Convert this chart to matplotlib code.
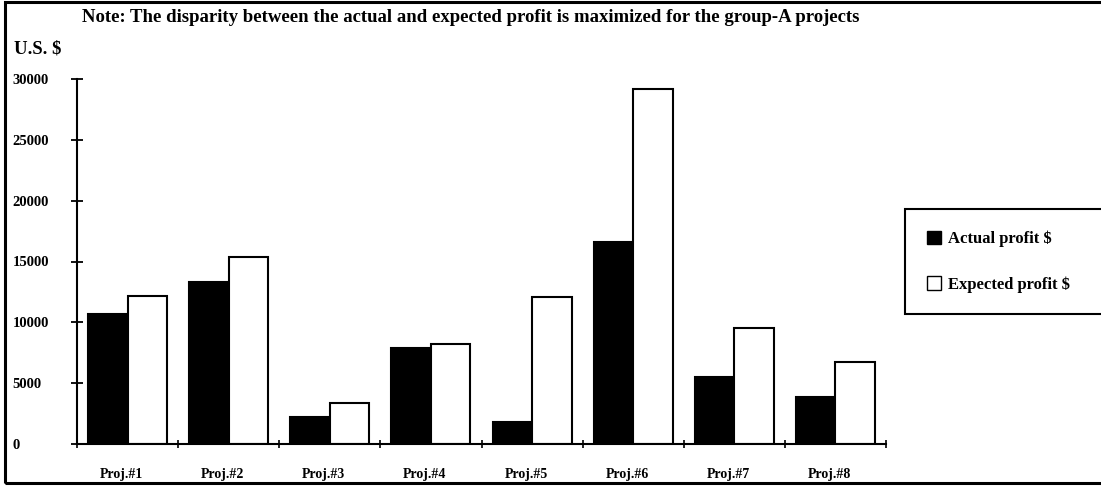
import numpy as np
import matplotlib
matplotlib.use("Agg")
import matplotlib.pyplot as plt
from matplotlib.patches import Rectangle, Patch

projects = ["Proj.#1", "Proj.#2", "Proj.#3", "Proj.#4", "Proj.#5", "Proj.#6", "Proj.#7", "Proj.#8"]
actual = [10700, 13300, 2200, 7900, 1800, 16600, 5500, 3900]
expected = [12200, 15400, 3400, 8200, 12100, 29200, 9500, 6700]
yticks = [0, 5000, 10000, 15000, 20000, 25000, 30000]

plt.rcParams["font.family"] = "Liberation Serif"
plt.rcParams["font.weight"] = "bold"

fig = plt.figure(figsize=(11.01, 4.86), dpi=100)
ax = fig.add_axes([77 / 1101, 1 - 444 / 486, (886 - 77) / 1101, (444 - 79) / 486])

x = np.arange(len(projects))
w = 0.39
ax.bar(x - w / 2, actual, w, color="black", edgecolor="black", linewidth=1.5)
ax.bar(x + w / 2, expected, w, color="white", edgecolor="black", linewidth=1.5)

ax.set_xlim(-0.5, len(projects) - 0.5)
ax.set_ylim(0, 30000)
for s in ["top", "right"]:
    ax.spines[s].set_visible(False)
for s in ["left", "bottom"]:
    ax.spines[s].set_linewidth(1.5)
    ax.spines[s].set_clip_on(False)

ax.set_yticks(yticks)
ax.set_yticklabels([str(v) for v in yticks], fontsize=10.5, fontweight="bold", ha="left")
ax.tick_params(axis="y", direction="inout", length=8.5, width=1.3, pad=42)

ax.set_xticks(np.arange(len(projects) + 1) - 0.5)
ax.set_xticklabels([])
ax.tick_params(axis="x", which="major", direction="inout", length=6, width=1.2)
ax.set_xticks(x - 0.06, minor=True)
ax.set_xticklabels(projects, minor=True, fontsize=10, fontweight="bold")
ax.tick_params(axis="x", which="minor", length=0, pad=17)

fig.text(82 / 1101, 1 - 17 / 486, "Note: The disparity between the actual and expected profit is maximized for the group-A projects",
         fontsize=13.5, fontweight="bold", ha="left", va="center")
fig.text(14 / 1101, 1 - 49 / 486, "U.S. \\$", fontsize=13.5, fontweight="bold", ha="left", va="center")

handles = [Patch(facecolor="black", edgecolor="black"), Patch(facecolor="white", edgecolor="black")]
leg = fig.legend(handles, ["Actual profit \\$", "Expected profit \\$"],
                 bbox_to_anchor=(905 / 1101, 1 - 314 / 486, 0.2, (314 - 209) / 486), loc="upper left",
                 mode="expand", fancybox=False, framealpha=1, edgecolor="black",
                 prop={"size": 12, "weight": "bold"}, handlelength=0.85, handleheight=0.85,
                 handletextpad=0.45, labelspacing=1.75, borderpad=1.3, borderaxespad=0)
leg.get_frame().set_linewidth(1.5)

fig.patches.append(Rectangle((5 / 1101, 3 / 486), 1.1, 1 - 5 / 486, transform=fig.transFigure,
                             fill=False, edgecolor="black", linewidth=2.2))

fig.savefig("out.png", dpi=100)
